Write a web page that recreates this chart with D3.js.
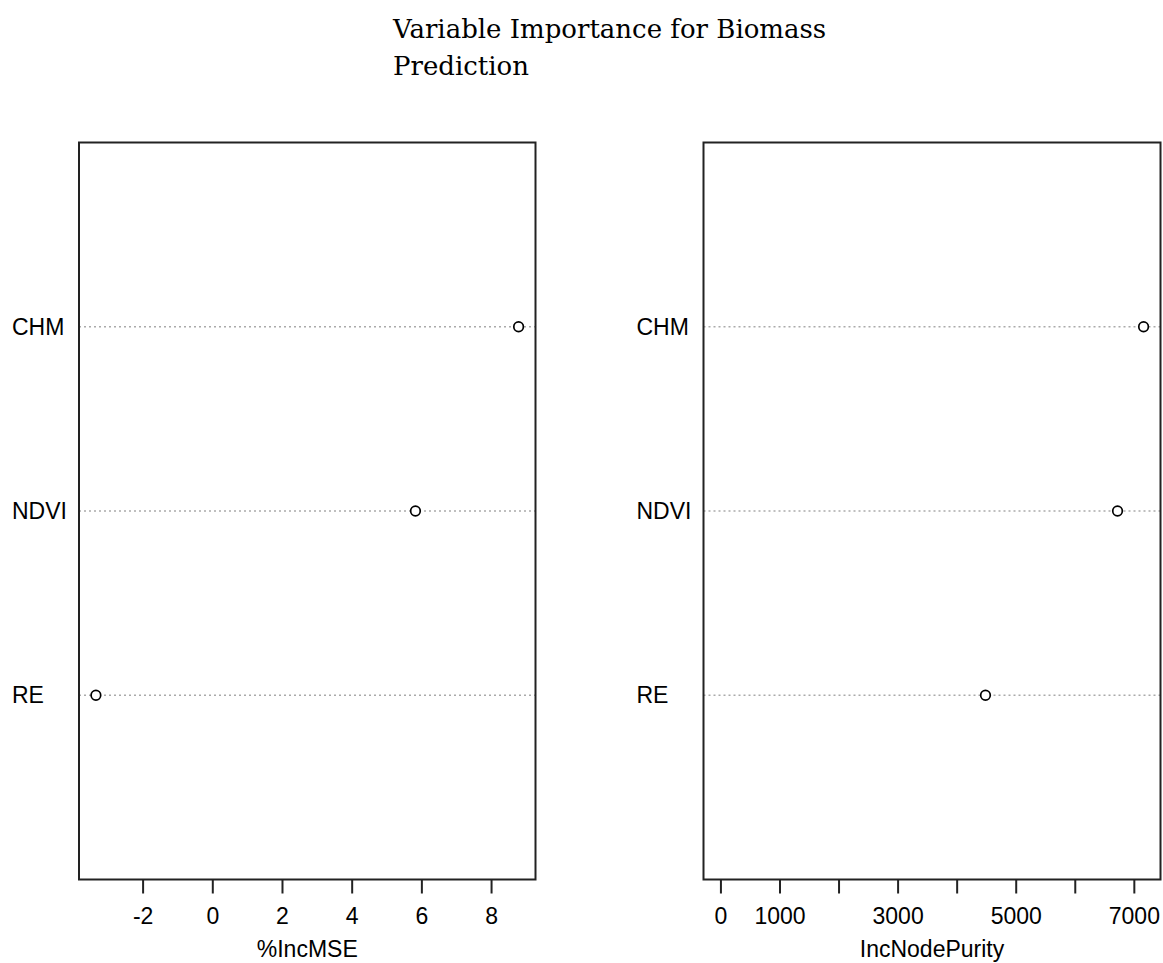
<!DOCTYPE html>
<html>
<head>
<meta charset="utf-8">
<script src="https://cdn.jsdelivr.net/npm/d3@7"></script>
<style>
  body { margin: 0; background: #fff; }
  svg { display: block; }
  .axis text { font-family: "Liberation Sans", Arial, sans-serif; font-size: 23px; fill: #000; }
  .axis path, .axis line { stroke: #222; stroke-width: 2; }
</style>
</head>
<body>
<div id="chart"></div>
<script>
var variables = ["CHM", "NDVI", "RE"];
var incMSE = [8.79, 5.83, -3.34];
var incNodePurity = [7165, 6724, 4488];
var mseTicks = [-2, 0, 2, 4, 6, 8];
var purityTicks = [0, 1000, 2000, 3000, 4000, 5000, 6000, 7000];
var purityLabels = [0, 1000, 3000, 5000, 7000];

var width = 1163, height = 963;
var svg = d3.select("#chart").append("svg")
  .attr("width", width)
  .attr("height", height);

var title = svg.append("text")
  .attr("x", 393)
  .attr("y", 38)
  .style("font-family", "'DejaVu Serif', serif")
  .style("font-size", "26px")
  .attr("fill", "#000");
title.append("tspan").attr("x", 393).text("Variable Importance for Biomass");
title.append("tspan").attr("x", 393).attr("dy", 37).text("Prediction");

var plotTop = 142.5, plotBottom = 879.5;

var yScale = d3.scaleLinear().domain([0, 4]).range([plotBottom, plotTop]);

// R dotchart-like extension of the range by 4%
function extend(lo, hi) {
  var r = hi - lo;
  return [lo - 0.04 * r, hi + 0.04 * r];
}

var createPanel = (left, right, values, xmin, ticks, labels, xlabel) => {
  var xScale = d3.scaleLinear()
    .domain(extend(xmin, d3.max(values)))
    .range([left, right]);

  var g = svg.append("g");

  // dotted guide lines
  g.selectAll(".guide")
    .data(variables)
    .enter()
    .append("line")
    .attr("class", "guide")
    .attr("x1", left)
    .attr("x2", right)
    .attr("y1", (d, i) => yScale(3 - i))
    .attr("y2", (d, i) => yScale(3 - i))
    .attr("stroke", "#aaaaaa")
    .attr("stroke-width", 1.3)
    .attr("stroke-dasharray", "2,3");

  // row labels
  g.selectAll(".lab")
    .data(variables)
    .enter()
    .append("text")
    .attr("class", "lab")
    .attr("x", left - 67)
    .attr("y", (d, i) => yScale(3 - i) + 8)
    .style("font-family", "'Liberation Sans', Arial, sans-serif")
    .style("font-size", "23px")
    .text(d => d);

  // points
  g.selectAll(".pt")
    .data(values)
    .enter()
    .append("circle")
    .attr("class", "pt")
    .attr("cx", d => xScale(d))
    .attr("cy", (d, i) => yScale(3 - i))
    .attr("r", 4.8)
    .attr("fill", "#fff")
    .attr("stroke", "#000")
    .attr("stroke-width", 1.7);

  // box
  g.append("rect")
    .attr("x", left)
    .attr("y", plotTop)
    .attr("width", right - left)
    .attr("height", plotBottom - plotTop)
    .attr("fill", "none")
    .attr("stroke", "#222")
    .attr("stroke-width", 2);

  var xAxis = d3.axisBottom(xScale)
    .tickValues(ticks)
    .tickSize(14)
    .tickPadding(14)
    .tickFormat(d => labels.indexOf(d) >= 0 ? d : "");

  var ax = g.append("g")
    .attr("class", "x axis")
    .attr("transform", `translate(0, ${plotBottom})`)
    .call(xAxis);
  ax.select(".domain").remove();

  g.append("text")
    .attr("x", (left + right) / 2)
    .attr("y", 957)
    .attr("text-anchor", "middle")
    .style("font-family", "'Liberation Sans', Arial, sans-serif")
    .style("font-size", "23px")
    .text(xlabel);
};

createPanel(79, 535.5, incMSE, d3.min(incMSE), mseTicks, mseTicks, "%IncMSE");
createPanel(703.5, 1160.5, incNodePurity, 0, purityTicks, purityLabels, "IncNodePurity");
</script>
</body>
</html>
